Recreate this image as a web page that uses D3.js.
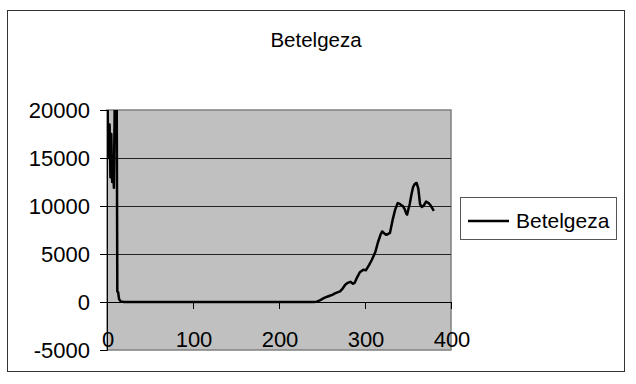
<!DOCTYPE html>
<html><head><meta charset="utf-8">
<script src="https://cdn.jsdelivr.net/npm/d3@7"></script>
<style>body{margin:0;background:#fff}svg{display:block}</style>
</head><body><svg id="c" width="636" height="384"></svg>
<script>
const chartTitle = "Betelgeza";
const seriesName = "Betelgeza";
const xValues = [0,1,2,3,4,5,6,7,8,10,11,12,13,14,16,20,240,244,248,252,256,259,262,265,268,271,274,277,280,283,286,288,291,294,298,301,305,308,312,315,318,320,323,325,327,329,332,335,338,340,342,344,346,348,349,350,352,354,356,358,360,362,364,366,368,371,374,376,378,380];
const yValues = [30000,17500,15000,18500,13000,17500,12500,15000,11900,30000,30000,1100,1000,300,50,0,0,30,200,400,550,650,750,900,1000,1100,1400,1800,2000,2100,1900,2000,2600,3100,3350,3300,3900,4400,5200,6200,7000,7350,7100,7000,7100,7200,8500,9600,10300,10250,10100,10000,9700,9200,9100,9500,10200,11200,12000,12300,12400,11800,10200,9900,10000,10450,10300,10100,9800,9500];
const xTicks = [0,100,200,300,400];
const yTicks = [-5000,0,5000,10000,15000,20000];

const svg = d3.select("#c");
const font = "'Liberation Sans', Arial, sans-serif";
const L = 107, R = 451, T = 110, B = 350;
const x = d3.scaleLinear().domain([0,400]).range([L,R]);
const y = d3.scaleLinear().domain([-5000,20000]).range([B,T]);

// outer border
svg.append("rect").attr("x",7.5).attr("y",10.5).attr("width",617).attr("height",361)
  .attr("fill","#fff").attr("stroke","#333").attr("stroke-width",1);

// title
svg.append("text").attr("x",316).attr("y",47).attr("text-anchor","middle")
  .attr("font-family",font).attr("font-size",20.5).text(chartTitle);

// plot area
svg.append("rect").attr("x",L).attr("y",T).attr("width",R-L).attr("height",B-T)
  .attr("fill","#c0c0c0").attr("stroke","#808080").attr("stroke-width",1.5);

// gridlines
svg.append("g").selectAll("line").data(yTicks.filter(d=>d>-5000 && d<20000)).join("line")
  .attr("x1",L).attr("x2",R).attr("y1",d=>Math.round(y(d))+0.5).attr("y2",d=>Math.round(y(d))+0.5)
  .attr("stroke","#222").attr("stroke-width",1);

// y axis
const yAxis = d3.axisLeft(y).tickValues(yTicks).tickSize(7).tickPadding(10).tickFormat(d=>String(d));
const gy = svg.append("g").attr("transform",`translate(${L},0)`).call(yAxis);
gy.select(".domain").attr("stroke","#000");
gy.selectAll(".tick line").attr("stroke","#000");
gy.selectAll(".tick text").attr("font-family",font).attr("font-size",22).attr("fill","#000");

// x axis at y=0
const xAxis = d3.axisBottom(x).tickValues(xTicks).tickSize(7).tickFormat("");
const gx = svg.append("g").attr("transform",`translate(0,${Math.round(y(0))})`).call(xAxis);
gx.select(".domain").attr("stroke","#000");
gx.selectAll(".tick line").attr("stroke","#000");
// x labels at bottom (low position)
svg.append("g").selectAll("text").data(xTicks).join("text")
  .attr("x",d=>x(d)+1).attr("y",347).attr("text-anchor","middle")
  .attr("font-family",font).attr("font-size",22).text(d=>d);

// clip
svg.append("clipPath").attr("id","clip").append("rect")
  .attr("x",L).attr("y",T).attr("width",R-L).attr("height",B-T);

const pts = xValues.map((v,i)=>[v,yValues[i]]);
const line = d3.line().x(d=>x(d[0])).y(d=>y(d[1]));
svg.append("path").datum(pts).attr("clip-path","url(#clip)")
  .attr("d",line).attr("fill","none").attr("stroke","#000").attr("stroke-width",2.5)
  .attr("stroke-linejoin","round");

// legend
const lg = svg.append("g");
lg.append("rect").attr("x",460.5).attr("y",197.5).attr("width",156).attr("height",42)
  .attr("fill","#fff").attr("stroke","#555").attr("stroke-width",1);
lg.append("line").attr("x1",468).attr("x2",509).attr("y1",221).attr("y2",221)
  .attr("stroke","#000").attr("stroke-width",2.5);
lg.append("text").attr("x",516).attr("y",228).attr("font-family",font).attr("font-size",21)
  .text(seriesName);
</script></body></html>
